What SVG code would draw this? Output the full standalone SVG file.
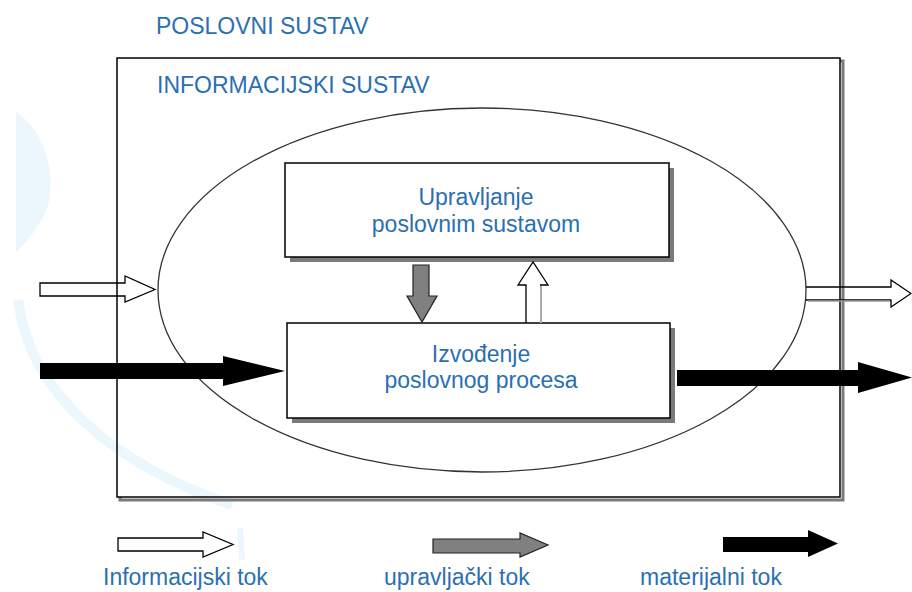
<svg xmlns="http://www.w3.org/2000/svg" width="912" height="592" viewBox="0 0 912 592">
<style>
text{font-family:"Liberation Sans",Arial,sans-serif;font-size:23px;fill:#2b6fb3}
.c{text-anchor:middle}
.box{fill:#fff;stroke:#000;stroke-width:1.5}
.sh{fill:#7a7a7a}
.wa{fill:#fff;stroke:#000;stroke-width:1.3}
.ba{fill:#000}
.ga{fill:#808080;stroke:#222;stroke-width:1.2}
</style>
<rect width="912" height="592" fill="#fff"/>
<g id="watermark" fill="none" stroke="#ecf6fd" stroke-width="10">
<path d="M16,112 C45,130 56,175 48,205 C40,228 26,242 16,252 Z" fill="#ecf6fd" stroke="none"/>
<path d="M18,300 C30,395 115,465 232,505"/>
<path d="M240,528 L242,560" stroke-width="6"/>
</g>
<g id="poslovni-sustav">
<path d="M120,497 L120,500 L843,500 L843,61 L840,61" fill="none" stroke="#7a7a7a" stroke-width="3"/>
<rect x="117" y="58" width="723" height="439" fill="none" stroke="#000" stroke-width="1.5"/>
<text x="156" y="34">POSLOVNI SUSTAV</text>
</g>
<g id="informacijski-sustav">
<ellipse cx="482" cy="290" rx="324" ry="182" fill="none" stroke="#333" stroke-width="1.3"/>
<text x="157" y="93">INFORMACIJSKI SUSTAV</text>
</g>
<g id="upravljanje">
<rect class="sh" x="290" y="168" width="384" height="94"/>
<rect class="box" x="285" y="163" width="384" height="94"/>
<text class="c" x="476" y="205">Upravljanje</text>
<text class="c" x="476" y="232">poslovnim sustavom</text>
</g>
<g id="izvodenje">
<rect class="sh" x="292" y="328" width="383" height="95"/>
<rect class="box" x="287" y="323" width="383" height="95"/>
<text class="c" x="481" y="362">Izvođenje</text>
<text class="c" x="481" y="388">poslovnog procesa</text>
</g>
<g id="connectors">
<path d="M40,283 L125,283 L125,276 L155,289.5 L125,302 L125,296 L40,296 Z" fill="none" stroke="#000" stroke-width="1.3"/>
<path class="ba" d="M40,363 L223,363 L223,356 L285,371 L223,386 L223,379 L40,379 Z"/>
<path d="M806,287 L891,287 L891,280 L911,293.5 L891,307 L891,300 L806,300" fill="none" stroke="#000" stroke-width="1.3"/>
<line x1="808" y1="301" x2="890" y2="301" stroke="#999" stroke-width="1.5"/>
<path class="ba" d="M677,370 L858,370 L858,362 L912,377.5 L858,393 L858,386 L677,386 Z"/>
<path class="ga" d="M413,265 L429,265 L429,296 L437,296 L422,322 L407,296 L413,296 Z"/>
<path d="M526,323 L526,285 L518,285 L533,262 L548,285 L540,285" fill="#fff" stroke="#000" stroke-width="1.3"/>
<line x1="541" y1="286" x2="541" y2="323" stroke="#aaa" stroke-width="2"/>
</g>
<g id="legend">
<path class="wa" d="M118,538 L203,538 L203,532 L233,544.5 L203,557 L203,551 L118,551 Z"/>
<text x="103" y="585">Informacijski tok</text>
<path class="ga" d="M433,539 L520,539 L520,533 L548,545 L520,557 L520,553 L433,553 Z"/>
<text x="384" y="585">upravljački tok</text>
<path class="ba" d="M723,537 L808,537 L808,530 L838,543.5 L808,557 L808,552 L723,552 Z"/>
<text x="640" y="585">materijalni tok</text>
</g>
</svg>
